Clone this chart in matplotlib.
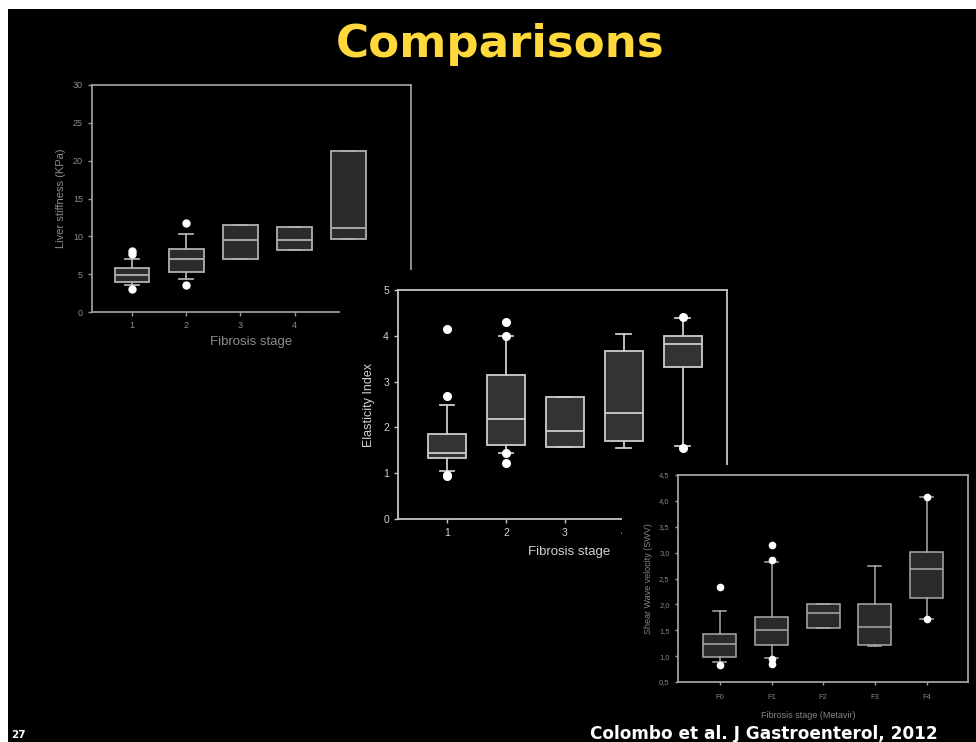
import matplotlib
matplotlib.use("Agg")
import matplotlib.pyplot as plt
from matplotlib.patches import Rectangle

W, H = 976, 742

# Liver stiffness (kPa) by fibrosis stage
ls_stages = ["1", "2", "3", "4", ""]
ls_q1 = [3.97, 5.29, 7.06, 8.17, 9.62]
ls_med = [4.86, 7.06, 9.49, 9.49, 11.12]
ls_q3 = [5.82, 8.39, 11.56, 11.17, 21.27]
ls_lo = [3.6, 4.42, 7.06, 8.17, 9.62]
ls_hi = [7.06, 10.37, 11.56, 11.17, 21.27]
ls_fliers = [[3.1, 7.6, 8.0], [3.6, 11.7], [], [], []]
ls_yticks = [0, 5, 10, 15, 20, 25, 30]

# Elasticity index by fibrosis stage
ei_stages = ["1", "2", "3", "4", "5"]
ei_q1 = [1.33, 1.62, 1.58, 1.71, 3.31]
ei_med = [1.44, 2.18, 1.93, 2.32, 3.82]
ei_q3 = [1.85, 3.15, 2.67, 3.67, 4.0]
ei_lo = [1.05, 1.45, 1.58, 1.56, 1.6]
ei_hi = [2.49, 4.0, 2.67, 4.05, 4.38]
ei_fliers = [[0.93, 0.97, 2.69, 4.15], [1.22, 1.45, 4.0, 4.31], [], [], [1.55, 4.42]]
ei_yticks = [0, 1, 2, 3, 4, 5]

# Shear wave velocity by Metavir stage
swv_stages = ["F0", "F1", "F2", "F3", "F4"]
swv_q1 = [0.99, 1.22, 1.55, 1.22, 2.13]
swv_med = [1.24, 1.51, 1.84, 1.56, 2.69]
swv_q3 = [1.43, 1.76, 2.01, 2.01, 3.01]
swv_lo = [0.89, 0.97, 1.55, 1.19, 1.71]
swv_hi = [1.87, 2.82, 2.01, 2.74, 4.07]
swv_fliers = [[0.83, 2.33], [0.85, 0.95, 2.86, 3.15], [], [], [1.71, 4.07]]
swv_yticks = [0.5, 1.0, 1.5, 2.0, 2.5, 3.0, 3.5, 4.0, 4.5]

plt.rcParams['font.family'] = ['Liberation Sans', 'DejaVu Sans']


def px_rect(x0, y0, x1, y1):
    return [x0 / W, 1 - y1 / H, (x1 - x0) / W, (y1 - y0) / H]


def cover(fig, x0, y0, x1, y1, z):
    r = Rectangle((x0 / W, 1 - y1 / H), (x1 - x0) / W, (y1 - y0) / H,
                  transform=fig.transFigure, facecolor='black',
                  edgecolor='none', zorder=z)
    fig.add_artist(r)


def boxes(ax, q1, med, q3, lo, hi, fliers, edge, fill, lw, ms):
    stats = []
    for a, m, b, l, h, f in zip(q1, med, q3, lo, hi, fliers):
        stats.append(dict(q1=a, med=m, q3=b, whislo=l, whishi=h, fliers=f))
    ax.bxp(stats, positions=range(1, len(stats) + 1), widths=0.64,
           capwidths=0.25, patch_artist=True,
           boxprops=dict(facecolor=fill, edgecolor=edge, linewidth=lw),
           medianprops=dict(color=edge, linewidth=lw),
           whiskerprops=dict(color=edge, linewidth=lw),
           capprops=dict(color=edge, linewidth=lw),
           flierprops=dict(marker='o', markerfacecolor='white',
                           markeredgecolor='white', markersize=ms))


def style(ax, spine, text, tsize, tlen):
    ax.set_facecolor('black')
    for s in ax.spines.values():
        s.set_color(spine)
        s.set_linewidth(1.3)
    ax.tick_params(colors=spine, labelcolor=text, labelsize=tsize,
                   length=tlen, width=1, direction='out')


fig = plt.figure(figsize=(W / 100, H / 100), dpi=100, facecolor='white')
cover(fig, 8, 9, W, H, 0)

# left chart
ax1 = fig.add_axes(px_rect(92, 85, 411, 312), zorder=1)
style(ax1, '#9a9a9a', '#8c8c8c', 6.5, 3)
boxes(ax1, ls_q1, ls_med, ls_q3, ls_lo, ls_hi, ls_fliers,
      '#b0b0b0', '#2b2b2b', 1.3, 5)
ax1.set_xlim(0.26, 6.15)
ax1.set_ylim(0, 30)
ax1.set_yticks(ls_yticks)
ax1.set_xticks(range(1, 6))
ax1.set_xticklabels(ls_stages)
ax1.set_ylabel("Liver stiffness (KPa)", color='#8c8c8c', fontsize=8, labelpad=5)
ax1.set_xlabel("Fibrosis stage", color='#8c8c8c', fontsize=9.5, labelpad=4)

# middle chart
cover(fig, 340, 270, W, 580, 1.5)
ax2 = fig.add_axes(px_rect(398, 290, 727, 519), zorder=2)
style(ax2, '#c4c4c4', '#d2d2d2', 7.5, 3)
boxes(ax2, ei_q1, ei_med, ei_q3, ei_lo, ei_hi, ei_fliers,
      '#cccccc', '#333333', 1.3, 5.5)
ax2.set_xlim(0.17, 5.75)
ax2.set_ylim(0, 5)
ax2.set_yticks(ei_yticks)
ax2.set_xticks(range(1, 6))
ax2.set_xticklabels(ei_stages)
ax2.set_ylabel("Elasticity Index", color='#d2d2d2', fontsize=9, labelpad=6)
ax2.set_xlabel("Fibrosis stage", color='#d2d2d2', fontsize=9.5, labelpad=6,
               x=0.52)

# right chart
cover(fig, 622, 465, W, H, 2.5)
ax3 = fig.add_axes(px_rect(678, 475, 968, 682), zorder=3)
style(ax3, '#a0a0a0', '#858585', 5.5, 2.5)
ax3.tick_params(axis='x', pad=6)
boxes(ax3, swv_q1, swv_med, swv_q3, swv_lo, swv_hi, swv_fliers,
      '#aaaaaa', '#2a2a2a', 1.1, 4.5)
ax3.set_xlim(0.19, 5.8)
ax3.set_ylim(0.5, 4.5)
ax3.set_yticks(swv_yticks)
ax3.set_yticklabels([f"{v:.1f}".replace('.', ',') for v in swv_yticks])
ax3.set_xticks(range(1, 6))
ax3.set_xticklabels(swv_stages)
ax3.set_ylabel("Shear Wave velocity (SWV)", color='#858585', fontsize=6.5,
               labelpad=4)
ax3.set_xlabel("Fibrosis stage (Metavir)", color='#858585', fontsize=6.5,
               labelpad=7, x=0.45)

fig.text(500 / W, 1 - 44 / H, "Comparisons", color='#ffd93b', fontsize=32.5,
         fontweight='bold', family='DejaVu Sans', ha='center', va='center',
         zorder=5)
fig.text(938 / W, 1 - 734 / H, "Colombo et al. J Gastroenterol, 2012",
         color='white', fontsize=12.2, fontweight='bold', family='DejaVu Sans',
         ha='right', va='center', zorder=5)
fig.text(11 / W, 1 - 735 / H, "27", color='white', fontsize=7.5,
         fontweight='bold', family='DejaVu Sans', ha='left', va='center',
         zorder=5)

fig.savefig("out.png", dpi=100, facecolor=fig.get_facecolor())
